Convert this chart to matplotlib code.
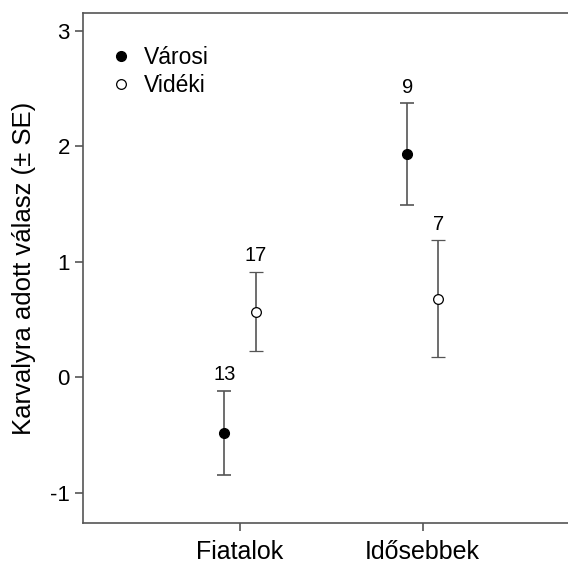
import numpy as np
import matplotlib
matplotlib.use("Agg")
import matplotlib.pyplot as plt

plt.rcParams['font.family'] = ['Liberation Sans', 'DejaVu Sans']

groups = ["Fiatalok", "Idősebbek"]
varosi_mean = [-0.48, 1.93]
varosi_se = [0.366, 0.44]
varosi_n = ["13", "9"]
videki_mean = [0.57, 0.68]
videki_se = [0.34, 0.505]
videki_n = ["17", "7"]

grey = "#555555"
fig = plt.figure(figsize=(5.68, 5.65), dpi=100)
ax = fig.add_axes([83 / 568, 1 - 523 / 565, (568 - 83) / 568, (523 - 13) / 565])

x = np.arange(1, len(groups) + 1)
off = 0.085

ax.errorbar(x - off, varosi_mean, yerr=varosi_se, fmt="o", color="black", ms=7,
            ecolor=grey, elinewidth=1.2, capsize=5, capthick=1.2, label="Városi")
ax.errorbar(x + off, videki_mean, yerr=videki_se, fmt="o", mfc="white", mec="black",
            mew=0.9, ms=7, ecolor=grey, elinewidth=1.2, capsize=5, capthick=1.2,
            label="Vidéki")

# sample sizes above the caps
for xi, m, s, n in zip(x - off, varosi_mean, varosi_se, varosi_n):
    ax.text(xi, m + s + 0.06, n, ha="center", va="bottom", fontsize=14.5)
for xi, m, s, n in zip(x + off, videki_mean, videki_se, videki_n):
    ax.text(xi, m + s + 0.06, n, ha="center", va="bottom", fontsize=14.5)

ax.set_xlim(0.141, 2.795)
ax.set_ylim(-1.26, 3.153)
ax.set_xticks(x)
ax.set_xticklabels(groups, fontsize=18)
ax.set_yticks([-1, 0, 1, 2, 3])
ax.set_yticklabels(["-1", "0", "1", "2", "3"], fontsize=16)
ax.set_ylabel("Karvalyra adott válasz (± SE)", fontsize=18.5, labelpad=10)

ax.spines["right"].set_visible(False)
for sp in ["left", "top", "bottom"]:
    ax.spines[sp].set_color(grey)
    ax.spines[sp].set_linewidth(1.2)
ax.tick_params(direction="out", length=5.5, width=1.2, color=grey, pad=4)
ax.tick_params(axis="x", pad=7)

handles, labels = ax.get_legend_handles_labels()
handles = [h[0] for h in handles]
ax.legend(handles, labels, loc="upper left", bbox_to_anchor=(0.012, 0.975), frameon=False,
          fontsize=16.5, handletextpad=0.5, labelspacing=0.2, handlelength=1.0)

fig.savefig("out.png", dpi=100)
